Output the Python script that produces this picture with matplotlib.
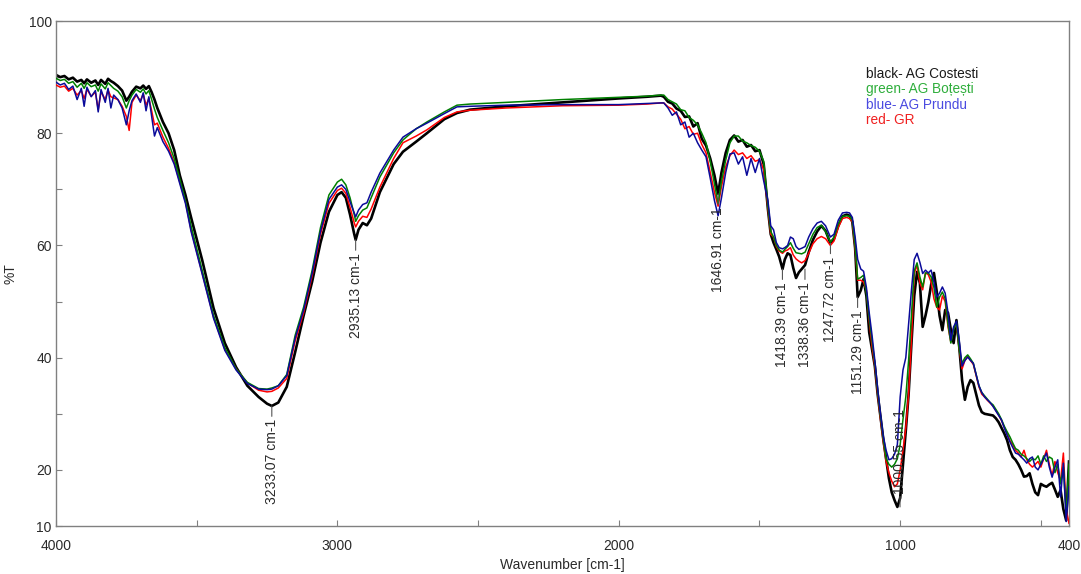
import matplotlib
matplotlib.use('Agg')
import matplotlib.pyplot as plt
import numpy as np

plt.rcParams['font.family'] = ['Liberation Sans', 'DejaVu Sans']

# wavenumber grid (cm-1), shared by the four spectra
wavenumber = [
    4000, 3985, 3970, 3955, 3940, 3925, 3910, 3900, 3890, 3875,
    3860, 3850, 3840, 3825, 3815, 3805, 3795, 3780, 3765, 3750,
    3740, 3730, 3715, 3700, 3690, 3680, 3670, 3660, 3650, 3640,
    3620, 3600, 3580, 3560, 3540,
    3520, 3480, 3440, 3400, 3360, 3320, 3280, 3250, 3233, 3210,
    3180, 3150, 3120, 3090, 3060, 3030, 3000, 2985, 2970, 2955,
    2940, 2935, 2925, 2910, 2895, 2880, 2849, 2800, 2767, 2720,
    2682, 2620, 2575, 2529, 2400, 2200, 2000, 1900, 1850,
    1840, 1825, 1810, 1795, 1780, 1765, 1750, 1735, 1720, 1705,
    1690, 1675, 1660, 1647, 1635, 1620, 1605, 1590, 1575, 1560,
    1545, 1530, 1515, 1500, 1485, 1470, 1460,
    1450, 1440, 1430, 1418, 1410, 1400, 1390, 1380, 1370, 1360,
    1350, 1338, 1325, 1310, 1295, 1280, 1265, 1248, 1235, 1220,
    1205, 1190, 1180, 1170, 1160, 1151, 1140, 1130, 1120, 1110, 1100,
    1090, 1080, 1070, 1060, 1050, 1040, 1030, 1020, 1010, 1000,
    990, 980, 970, 960, 950, 940, 930, 920, 910, 900,
    890, 880, 870, 860, 850, 840, 830, 820, 810, 800,
    790, 780, 770, 760, 750, 740, 730, 720, 710, 700,
    690, 680, 670, 660, 650, 640, 630, 620, 610, 600,
    590, 580, 570, 560, 550, 540, 530, 520, 510, 500,
    490, 480, 470, 460, 450, 440, 430, 420, 410, 400,
]

# %T, AG Costesti (black)
t_black = [
    90.4, 90.0, 90.2, 89.6, 89.9, 89.2, 89.5, 88.9, 89.6, 89.0,
    89.4, 88.6, 89.5, 88.8, 89.7, 89.3, 89.0, 88.4, 87.6, 85.8,
    86.5, 87.4, 88.3, 88.0, 88.5, 87.9, 88.4, 87.3, 86.0, 84.5,
    82.0, 80.0, 77.0, 72.5, 69.0,
    65.0, 57.3, 48.8, 42.6, 38.3, 35.0, 33.0, 31.8, 31.4, 32.0,
    34.8, 41.0, 47.5, 53.5, 60.5, 66.0, 69.0, 69.5, 68.5, 65.5,
    62.0, 61.0, 62.8, 64.0, 63.6, 64.8, 69.5, 74.5, 76.7, 78.5,
    80.0, 82.5, 83.6, 84.2, 84.8, 85.5, 86.2, 86.5, 86.7,
    86.5, 85.6, 85.3, 84.4, 84.0, 82.9, 83.0, 81.2, 81.8, 79.0,
    77.8, 75.5, 72.5, 69.2, 73.0, 76.5, 78.8, 79.6, 78.5, 78.8,
    77.6, 77.9, 76.8, 77.0, 74.5, 66.5, 62.0,
    60.5, 59.3, 58.0, 55.8, 57.5, 58.6, 58.3, 56.0, 54.2, 55.2,
    55.8, 56.5, 58.8, 61.0, 62.5, 63.5, 62.6, 60.4, 61.2, 63.5,
    65.2, 65.5, 65.3, 64.2, 59.5, 50.8, 52.0, 54.0, 51.0, 44.5, 41.5,
    38.5, 33.5, 29.5, 25.5, 22.0, 18.5, 16.0, 14.6, 13.4, 15.0,
    21.0, 27.0, 33.5, 42.5, 51.0, 55.3, 53.3, 45.5, 47.5, 49.9,
    53.0, 55.1, 51.8, 47.5, 44.9, 48.5, 48.0, 45.0, 42.6, 46.7,
    41.9, 36.0, 32.5, 34.8, 36.0, 35.5, 33.5, 31.5, 30.3, 30.0,
    29.9, 29.8, 29.7, 29.2, 28.5, 27.5, 26.5, 25.3, 23.5, 22.3,
    21.8, 21.0, 20.0, 18.8, 18.9, 19.4, 17.5, 16.0, 15.5, 17.5,
    17.2, 17.0, 17.4, 17.7, 16.5, 15.2, 16.4, 13.0, 11.0, 21.5,
]

# %T, AG Botesti (green)
t_green = [
    89.8, 89.4, 89.6, 88.9, 89.2, 88.2, 88.9, 88.0, 89.0, 88.3,
    88.6, 87.5, 88.8, 87.9, 89.0, 88.5, 88.0, 87.5, 86.5, 84.5,
    85.8, 86.8, 87.8, 87.3, 87.9, 87.0, 87.6, 86.0, 84.3, 82.8,
    80.5, 78.3, 75.5, 71.8, 68.0,
    63.5, 55.5, 47.5, 41.8, 38.0, 35.6, 34.5, 34.4, 34.6, 35.0,
    37.0, 44.0, 49.0, 55.5, 63.2, 69.0, 71.3, 71.8, 70.8, 68.5,
    65.5, 64.3, 65.3, 66.3, 66.7, 68.5, 72.2, 76.5, 78.8, 80.8,
    82.0, 83.8, 85.0, 85.2, 85.5, 86.0, 86.4, 86.6, 86.8,
    86.8, 86.0, 85.6, 85.2, 84.2, 84.0, 82.8, 82.3, 81.5, 80.0,
    78.3, 75.0, 71.0, 67.5, 71.5, 75.2, 78.3, 79.5, 79.5, 78.6,
    78.3, 77.8, 77.5, 76.8, 75.0, 67.0, 62.5,
    61.5, 60.0, 59.2, 58.8, 59.3, 59.8, 60.5, 59.5, 58.7, 58.6,
    58.5, 58.8, 60.3, 62.0, 63.2, 63.6, 62.5, 60.6, 61.5, 63.8,
    65.2, 65.3, 65.2, 64.5, 60.0, 54.0, 54.3, 54.7, 51.5, 47.0, 43.0,
    39.0, 34.0, 29.5, 25.5, 22.0, 21.0, 20.5, 21.0, 22.0, 24.5,
    29.0, 33.0, 39.5, 47.5, 55.5, 56.9, 54.4, 52.6, 55.1, 55.1,
    54.4, 52.5, 49.0, 50.8, 51.7, 50.5, 46.0, 42.6, 45.0, 46.2,
    41.4, 39.0, 40.0, 40.5, 39.8, 39.0, 37.0, 35.0, 33.8, 33.2,
    32.6, 32.0, 31.6, 30.8, 30.0, 29.0, 27.8, 26.8, 25.9, 24.8,
    23.8, 23.5, 22.8, 22.5, 22.0, 21.5, 22.0, 21.8, 22.5, 21.0,
    22.5, 21.5, 22.3, 22.0, 19.5, 21.0, 17.5, 20.5, 12.0, 21.0,
]

# %T, AG Prundu (blue)
t_blue = [
    89.1, 88.6, 88.9, 87.8, 88.4, 86.0, 88.0, 84.8, 88.2, 86.5,
    87.6, 83.8, 87.8, 85.5, 88.0, 84.5, 86.8, 86.0, 84.5, 81.5,
    84.0, 85.8, 87.0, 85.5, 87.2, 84.0, 86.5, 83.0, 79.5, 81.0,
    78.5, 76.8, 74.5, 71.0, 67.5,
    62.5, 54.8, 47.0, 41.3, 37.8, 35.4, 34.4, 34.3, 34.4, 35.0,
    36.8, 43.5, 48.5, 55.0, 62.5, 68.2, 70.4, 70.8, 70.0, 67.8,
    65.8, 65.1, 66.3, 67.3, 67.6, 69.5, 72.9, 77.0, 79.3, 80.8,
    81.8, 83.5, 84.7, 84.8, 85.0, 85.1, 85.1, 85.3, 85.4,
    85.4, 84.5, 83.2, 83.8, 81.5, 82.0, 79.3, 80.0, 78.3, 77.0,
    75.8, 72.0, 68.0, 65.3, 68.5, 73.0, 76.3, 76.5, 74.5, 75.8,
    72.5, 75.5, 73.0, 75.5, 71.5, 68.0, 63.5,
    62.8, 60.5, 59.6, 59.4, 59.6, 60.0, 61.5, 61.2, 59.8, 59.3,
    59.5, 59.8, 61.5, 63.0, 64.0, 64.3, 63.5, 61.5, 62.0, 64.5,
    65.8, 65.9, 65.8, 65.0, 61.5, 57.5, 55.8, 55.4, 52.5, 48.0, 44.0,
    39.5, 34.5, 30.0, 26.0, 23.5, 21.8, 22.0, 22.8, 24.5, 33.0,
    37.8, 40.0, 46.0, 52.0, 57.5, 58.6, 57.0, 55.0, 55.6, 55.1,
    55.6, 53.5, 50.8, 51.5, 52.6, 51.5, 48.0, 43.1, 45.5, 46.5,
    43.1, 38.5, 39.5, 40.1, 39.5, 39.0, 37.0, 35.0, 33.8, 33.0,
    32.5, 32.0, 31.3, 30.5, 29.7, 28.9, 27.5, 26.2, 25.0, 24.0,
    23.0, 22.8, 22.3, 21.8, 21.2, 22.0, 22.3, 20.5, 20.0, 21.0,
    22.0, 23.0, 20.5, 18.7, 20.5, 21.8, 15.2, 21.2, 10.8, 17.0,
]

# %T, GR (red)
t_red = [
    88.6, 88.2, 88.4, 87.5, 88.0, 86.8, 87.6, 86.2, 87.8, 86.6,
    87.3, 84.2, 87.4, 86.0, 87.7, 86.5, 86.3, 86.0, 84.8, 83.0,
    80.5, 85.5, 86.8, 85.8, 87.0, 85.0, 86.2, 84.0, 81.5, 81.8,
    79.3, 77.3, 74.8, 71.3, 67.8,
    62.8, 55.0, 47.2, 41.5, 38.0, 35.5, 34.2, 33.9, 34.0, 34.6,
    36.3, 43.0, 48.0, 54.5, 62.0, 67.5, 69.8, 70.2, 69.3, 66.8,
    64.0, 63.3, 64.3, 65.2, 65.0, 66.5, 70.4, 75.5, 78.3, 79.5,
    80.6, 82.8, 83.8, 84.1, 84.5, 84.9, 85.0, 85.2, 85.4,
    85.4, 84.7, 84.3, 83.4, 82.5, 80.8, 81.2, 79.8, 80.0, 78.0,
    76.5, 73.0, 69.5, 67.0, 70.5, 74.0, 76.0, 77.0, 76.2, 76.5,
    75.5, 76.0, 75.0, 75.3, 73.5, 66.5, 62.0,
    61.5, 59.8, 59.0, 58.6, 59.0, 59.2, 59.6, 58.3, 57.6, 57.2,
    56.9, 57.3, 58.6, 60.3, 61.2, 61.6, 61.2, 60.0, 60.8, 63.2,
    64.8, 65.0, 64.8, 64.2, 59.5, 53.8, 53.8, 53.5, 52.0, 46.5, 42.0,
    38.5, 33.5, 29.0, 25.0, 21.5, 19.5, 18.0, 17.0, 17.5, 20.0,
    23.5, 27.5, 33.5, 43.0, 55.0, 56.5, 53.3, 52.1, 55.1, 54.8,
    53.5, 50.5, 49.0, 48.5, 51.0, 50.0, 45.5, 42.8, 45.3, 45.8,
    41.5, 38.0, 39.5, 40.3, 39.5, 38.8, 36.8, 34.8, 33.5, 33.0,
    32.4, 31.9, 31.4, 30.6, 29.8, 28.8, 27.6, 26.5, 25.2, 24.5,
    23.5, 23.0, 22.3, 23.5, 21.8, 21.0, 20.5, 21.0, 21.5, 20.5,
    22.0, 23.5, 21.0, 19.0, 21.5, 19.5, 18.0, 23.0, 13.0, 10.5,
]

# labelled bands
peak_wn = [3233.07, 2935.13, 1646.91, 1418.39, 1338.36, 1247.72, 1151.29, 1000.55]
peak_up = [False, False, False, False, False, False, False, True]

legend_lines = [('black- AG Costesti', '#1a1a1a'),
                ('green- AG Boțești', '#2fae3c'),
                ('blue- AG Prundu', '#4a4ae0'),
                ('red- GR', '#f02020')]

GRAY = '#808080'
TXT = '#2a2a2a'

fig = plt.figure(figsize=(10.81, 5.74), dpi=100)
ax = fig.add_axes([0.0518, 0.0836, 0.9371, 0.8798])

wn = np.array(wavenumber)
ax.plot(wn, t_black, color='black', lw=1.9, zorder=2)
ax.plot(wn, t_red, color='#ff0000', lw=1.1, zorder=3)
ax.plot(wn, t_green, color='#008000', lw=1.1, zorder=4)
ax.plot(wn, t_blue, color='#0a0a9a', lw=1.1, zorder=5)

ax.set_xlim(4000, 400)
ax.set_ylim(10, 100)

ax.set_xticks([4000, 3500, 3000, 2500, 2000, 1500, 1000, 500, 400])
ax.set_xticklabels(['4000', '', '3000', '', '2000', '', '1000', '', '400'])
ax.set_yticks(range(10, 101, 10))
ax.set_yticklabels(['10', '20', '', '40', '', '60', '', '80', '', '100'])
ax.tick_params(direction='in', length=4, width=0.8, color=GRAY,
               labelsize=10, labelcolor=TXT)
ax.tick_params(axis='x', pad=9)
ax.tick_params(axis='y', pad=3)
for s in ax.spines.values():
    s.set_color(GRAY)
    s.set_linewidth(1.0)

ax.set_xlabel('Wavenumber [cm-1]', fontsize=10, color=TXT)
ax.xaxis.set_label_coords(0.5, -0.064)
ax.set_ylabel('%T', fontsize=10, color=TXT, labelpad=8)

# band labels: vertical text hanging from the black trace
tb = np.array(t_black)
for w, up in zip(peak_wn, peak_up):
    near = np.abs(wn - w) <= 12
    t0 = tb[near].min()
    off = 9.5 if up else -9.5
    ax.annotate(f'{w:.2f} cm-1', xy=(w, t0), xytext=(0, off),
                textcoords='offset points', rotation=90,
                ha='center', va='bottom' if up else 'top',
                fontsize=10, color=TXT, zorder=6,
                arrowprops=dict(arrowstyle='-', color='#555555', lw=0.8,
                                shrinkA=0, shrinkB=0))

for i, (txt, c) in enumerate(legend_lines):
    ax.text(0.7996, 0.895 - i * 0.0305, txt, transform=ax.transAxes,
            fontsize=9.8, color=c, va='center', ha='left')

plt.savefig('out.png', dpi=100, facecolor='white')
